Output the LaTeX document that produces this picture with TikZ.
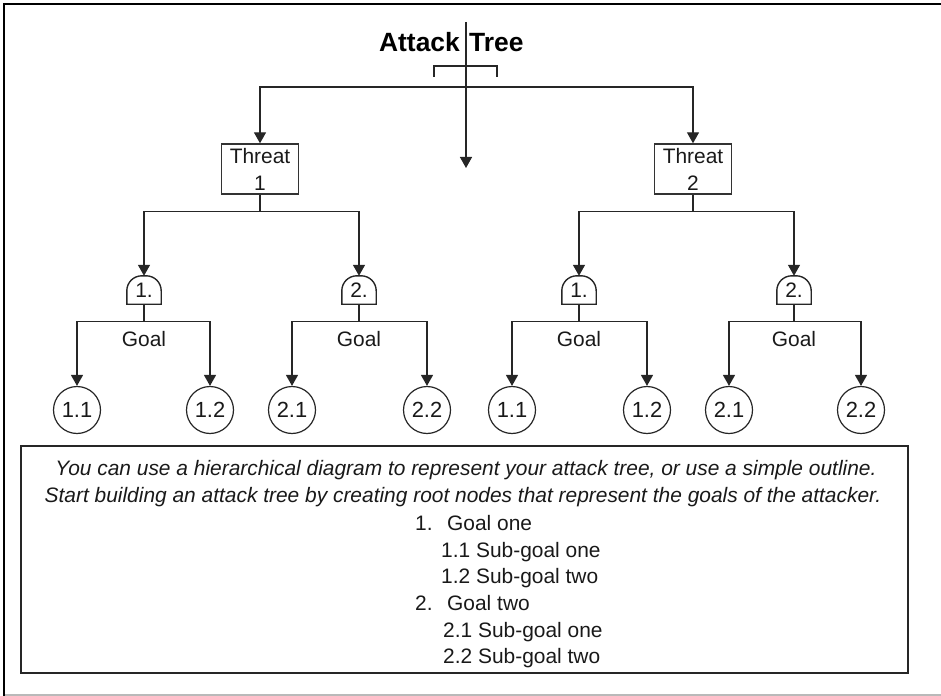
\documentclass[tikz,border=0pt]{standalone}
\usepackage{fontspec}
\setmainfont{Liberation Sans}
\usetikzlibrary{arrows.meta}
\begin{document}
\begin{tikzpicture}[x=1bp,y=-1bp,
  every node/.style={font=\fontsize{21}{27}\selectfont, inner sep=0pt, text=black!90},
  link/.style={draw=black!85, line width=1.4bp},
  arr/.style={link, -{Triangle[width=12bp,length=11bp]}},
  threatbox/.style={draw=black!80, line width=1.4bp, minimum width=77bp, minimum height=50bp, align=center},
  leaf/.style={circle, draw=black!85, line width=1.2bp, minimum size=47bp, font=\fontsize{22}{26}\selectfont},
  gate/.style={minimum width=34bp, minimum height=28bp},
  titletext/.style={font=\fontsize{26.5}{30}\selectfont\bfseries, text=black},
  notetext/.style={anchor=base},
  listtext/.style={anchor=base west}
]
\useasboundingbox (0,0) rectangle (941,696);

% page frame
\draw[line width=2.6bp, black] (4,696) -- (4,4) -- (941,4);
\draw[gray!55, line width=2bp] (5,694.5) -- (941,694.5);

% title
\node[titletext, anchor=base east] (titleA) at (460,52) {Attack};
\node[titletext, anchor=base west] (titleB) at (469,52) {Tree};
\draw[link, line width=1.2bp] (434,77) -- (434,66) -- (497,66) -- (497,77);

% root stem and split
\coordinate (top) at (466,22);
\coordinate (tip) at (466,168);
\coordinate (hub) at (466,87);
\draw[arr] (top) -- (tip);

% threats
\node[threatbox] (t1) at (260,169) {Threat\\1};
\node[threatbox] (t2) at (693,169) {Threat\\2};
\draw[arr] (hub) -| (t1.north);
\draw[arr] (hub) -| (t2.north);

% goal gates
\foreach \name/\x/\lab in {g11/144/1., g12/359/2., g21/579/1., g22/794/2.}{
  \node[gate] (\name) at (\x,290) {\lab};
  \draw[link] (\name.south west) [rounded corners=15bp] -- (\name.north west)
     -- (\name.north east) [sharp corners] -- (\name.south east) -- cycle;
}

\draw[link] (t1.south) -- ++(0,17) coordinate (t1j);
\draw[arr] (t1j) -| (g11.north);
\draw[arr] (t1j) -| (g12.north);
\draw[link] (t2.south) -- ++(0,17) coordinate (t2j);
\draw[arr] (t2j) -| (g21.north);
\draw[arr] (t2j) -| (g22.north);

% sub-goals
\node[leaf] (l111) at (77,410) {1.1};
\node[leaf] (l112) at (210,410) {1.2};
\node[leaf] (l121) at (292,410) {2.1};
\node[leaf] (l122) at (427,410) {2.2};
\node[leaf] (l211) at (512,410) {1.1};
\node[leaf] (l212) at (647,410) {1.2};
\node[leaf] (l221) at (729,410) {2.1};
\node[leaf] (l222) at (861,410) {2.2};

\foreach \g/\a/\b in {g11/l111/l112, g12/l121/l122, g21/l211/l212, g22/l221/l222}{
  \draw[link] (\g.south) -- ++(0,17) coordinate (\g j);
  \draw[arr] (\g j) -| (\a.north);
  \draw[arr] (\g j) -| (\b.north);
  \node (\g lab) at ([yshift=-18bp]\g j) {Goal};
}

% explanatory note
\node[draw=black!85, line width=1.4bp, minimum width=887bp, minimum height=227bp] (note) at (464.5,559.5) {};
\node[notetext, font=\fontsize{21}{27}\selectfont\itshape] (line1) at (466,475)
  {You can use a hierarchical diagram to represent your attack tree, or use a simple outline.};
\node[notetext, font=\fontsize{21}{27}\selectfont\itshape] (line2) at (463,502)
  {Start building an attack tree by creating root nodes that represent the goals of the attacker.};
\node[listtext] (n1) at (415,530) {1.};
\node[listtext] (n1t) at (447,530) {Goal one};
\node[listtext] (n11) at (441,557) {1.1 Sub-goal one};
\node[listtext] (n12) at (441,583) {1.2 Sub-goal two};
\node[listtext] (n2) at (415,610) {2.};
\node[listtext] (n2t) at (447,610) {Goal two};
\node[listtext] (n21) at (443,637) {2.1 Sub-goal one};
\node[listtext] (n22) at (443,663) {2.2 Sub-goal two};
\end{tikzpicture}
\end{document}
